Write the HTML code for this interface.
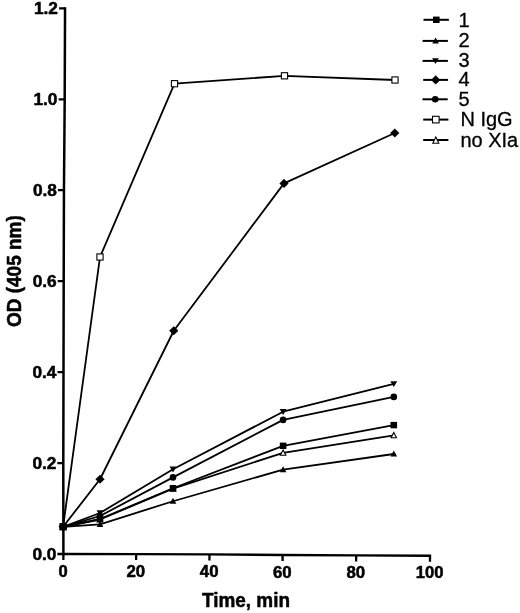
<!DOCTYPE html>
<html><head><meta charset="utf-8"><title>Figure</title>
<style>
html,body{margin:0;padding:0;background:#fff;}
body{width:520px;height:613px;overflow:hidden;}
svg{display:block;}
text{font-family:"Liberation Sans",sans-serif;fill:#000;stroke:#000;stroke-width:0.3px;stroke-linejoin:round;}
.b{font-weight:bold;stroke-width:0.5px;}
</style></head><body>
<svg width="520" height="613" viewBox="0 0 520 613">
<rect width="520" height="613" fill="#fff"/>

<g stroke="#000" fill="none" stroke-linecap="butt">
<polyline points="65.05,7.2 64.7,99 63.95,190 63.7,281 63.5,372 63.3,463 63.4,555.2" stroke-width="2.5"/>
<polyline points="62.2,553.95 136.15,554.1 209.46,554.4 282.6,555.05 356.15,555.4 431.15,555.75" stroke-width="2.4"/>
<line x1="59.05" y1="8.4" x2="65.05" y2="8.42" stroke-width="2.3"/>
<line x1="58.70" y1="99.4" x2="64.70" y2="99.42" stroke-width="2.3"/>
<line x1="57.95" y1="190.1" x2="63.95" y2="190.12" stroke-width="2.3"/>
<line x1="57.70" y1="281.1" x2="63.70" y2="281.12" stroke-width="2.3"/>
<line x1="57.50" y1="372.1" x2="63.50" y2="372.12" stroke-width="2.3"/>
<line x1="57.30" y1="463.1" x2="63.30" y2="463.12" stroke-width="2.3"/>
<line x1="57.40" y1="554.0" x2="63.40" y2="554.02" stroke-width="2.3"/>
<line x1="63.40" y1="553.95" x2="63.38" y2="559.95" stroke-width="2.3"/>
<line x1="136.15" y1="554.10" x2="136.13" y2="560.10" stroke-width="2.3"/>
<line x1="209.46" y1="554.40" x2="209.44" y2="560.40" stroke-width="2.3"/>
<line x1="282.60" y1="555.05" x2="282.58" y2="561.05" stroke-width="2.3"/>
<line x1="356.15" y1="555.40" x2="356.13" y2="561.40" stroke-width="2.3"/>
<line x1="430.00" y1="555.75" x2="429.98" y2="561.75" stroke-width="2.3"/>
</g>
<g stroke="#000" fill="none" stroke-width="1.8" stroke-linejoin="round">
<polyline points="63.10,526.80 100.00,257.00 174.50,83.70 284.50,75.80 395.00,80.00"/>
<polyline points="63.10,526.80 100.00,519.50 173.00,488.60 283.10,452.80 393.80,435.30"/>
<polyline points="63.10,526.80 100.00,524.30 173.00,501.25 283.10,469.60 393.80,454.00"/>
<polyline points="63.10,526.80 100.00,519.00 173.00,488.25 283.10,445.80 393.80,425.10"/>
<polyline points="63.10,526.80 100.00,516.00 173.00,477.40 283.10,419.90 393.80,396.90"/>
<polyline points="63.10,526.80 100.00,513.00 173.00,469.30 283.10,411.70 393.80,383.90"/>
<polyline points="63.10,526.80 100.00,479.25 173.75,330.75 284.00,183.40 394.80,133.00"/>
</g>
<rect x="60.00" y="523.70" width="6.2" height="6.2" fill="#fff" stroke="#000" stroke-width="1.1"/>
<rect x="96.90" y="253.90" width="6.2" height="6.2" fill="#fff" stroke="#000" stroke-width="1.1"/>
<rect x="171.40" y="80.60" width="6.2" height="6.2" fill="#fff" stroke="#000" stroke-width="1.1"/>
<rect x="281.40" y="72.70" width="6.2" height="6.2" fill="#fff" stroke="#000" stroke-width="1.1"/>
<rect x="391.90" y="76.90" width="6.2" height="6.2" fill="#fff" stroke="#000" stroke-width="1.1"/>
<polygon points="63.10,524.00 65.85,529.30 60.35,529.30" fill="#fff" stroke="#000" stroke-width="1.1"/>
<polygon points="100.00,516.70 102.75,522.00 97.25,522.00" fill="#fff" stroke="#000" stroke-width="1.1"/>
<polygon points="173.00,485.80 175.75,491.10 170.25,491.10" fill="#fff" stroke="#000" stroke-width="1.1"/>
<polygon points="283.10,450.00 285.85,455.30 280.35,455.30" fill="#fff" stroke="#000" stroke-width="1.1"/>
<polygon points="393.80,432.50 396.55,437.80 391.05,437.80" fill="#fff" stroke="#000" stroke-width="1.1"/>
<polygon points="63.10,523.40 66.40,529.40 59.80,529.40" fill="#000"/>
<polygon points="100.00,520.90 103.30,526.90 96.70,526.90" fill="#000"/>
<polygon points="173.00,497.85 176.30,503.85 169.70,503.85" fill="#000"/>
<polygon points="283.10,466.20 286.40,472.20 279.80,472.20" fill="#000"/>
<polygon points="393.80,450.60 397.10,456.60 390.50,456.60" fill="#000"/>
<rect x="59.80" y="523.60" width="6.6" height="6.4" fill="#000"/>
<rect x="96.70" y="515.80" width="6.6" height="6.4" fill="#000"/>
<rect x="169.70" y="485.05" width="6.6" height="6.4" fill="#000"/>
<rect x="279.80" y="442.60" width="6.6" height="6.4" fill="#000"/>
<rect x="390.50" y="421.90" width="6.6" height="6.4" fill="#000"/>
<circle cx="63.10" cy="526.80" r="3.3" fill="#000"/>
<circle cx="100.00" cy="516.00" r="3.3" fill="#000"/>
<circle cx="173.00" cy="477.40" r="3.3" fill="#000"/>
<circle cx="283.10" cy="419.90" r="3.3" fill="#000"/>
<circle cx="393.80" cy="396.90" r="3.3" fill="#000"/>
<polygon points="63.10,530.00 66.50,524.10 59.70,524.10" fill="#000"/>
<polygon points="100.00,516.20 103.40,510.30 96.60,510.30" fill="#000"/>
<polygon points="173.00,472.50 176.40,466.60 169.60,466.60" fill="#000"/>
<polygon points="283.10,414.90 286.50,409.00 279.70,409.00" fill="#000"/>
<polygon points="393.80,387.10 397.20,381.20 390.40,381.20" fill="#000"/>
<polygon points="63.10,522.20 67.70,526.80 63.10,531.40 58.50,526.80" fill="#000"/>
<polygon points="100.00,474.65 104.60,479.25 100.00,483.85 95.40,479.25" fill="#000"/>
<polygon points="173.75,326.15 178.35,330.75 173.75,335.35 169.15,330.75" fill="#000"/>
<polygon points="284.00,178.80 288.60,183.40 284.00,188.00 279.40,183.40" fill="#000"/>
<polygon points="394.80,128.40 399.40,133.00 394.80,137.60 390.20,133.00" fill="#000"/>
<text class="b" x="57.9" y="14.30" font-size="16" text-anchor="end" textLength="24" lengthAdjust="spacingAndGlyphs">1.2</text>
<text class="b" x="57.4" y="105.30" font-size="16" text-anchor="end" textLength="24" lengthAdjust="spacingAndGlyphs">1.0</text>
<text class="b" x="56.9" y="196.00" font-size="16" text-anchor="end" textLength="24" lengthAdjust="spacingAndGlyphs">0.8</text>
<text class="b" x="56.7" y="287.00" font-size="16" text-anchor="end" textLength="24" lengthAdjust="spacingAndGlyphs">0.6</text>
<text class="b" x="56.45" y="378.00" font-size="16" text-anchor="end" textLength="24" lengthAdjust="spacingAndGlyphs">0.4</text>
<text class="b" x="56.45" y="469.00" font-size="16" text-anchor="end" textLength="24" lengthAdjust="spacingAndGlyphs">0.2</text>
<text class="b" x="56.45" y="559.90" font-size="16" text-anchor="end" textLength="24" lengthAdjust="spacingAndGlyphs">0.0</text>
<text class="b" x="63.10" y="576.50" font-size="16" text-anchor="middle" textLength="9.2" lengthAdjust="spacingAndGlyphs">0</text>
<text class="b" x="135.85" y="576.70" font-size="16" text-anchor="middle" textLength="18.7" lengthAdjust="spacingAndGlyphs">20</text>
<text class="b" x="209.16" y="576.80" font-size="16" text-anchor="middle" textLength="18.7" lengthAdjust="spacingAndGlyphs">40</text>
<text class="b" x="282.30" y="577.50" font-size="16" text-anchor="middle" textLength="18.7" lengthAdjust="spacingAndGlyphs">60</text>
<text class="b" x="355.85" y="578.00" font-size="16" text-anchor="middle" textLength="18.7" lengthAdjust="spacingAndGlyphs">80</text>
<text class="b" x="429.70" y="578.30" font-size="16" text-anchor="middle" textLength="27.7" lengthAdjust="spacingAndGlyphs">100</text>
<text class="b" x="202" y="606.5" font-size="19.3" textLength="88" lengthAdjust="spacingAndGlyphs">Time, min</text>
<text class="b" transform="translate(20.6,327.1) rotate(-90)" font-size="19.4" textLength="111.9" lengthAdjust="spacingAndGlyphs">OD (405 nm)</text>
<line x1="423.5" y1="19.8" x2="448.9" y2="19.8" stroke="#000" stroke-width="2"/>
<rect x="433.00" y="16.60" width="6.6" height="6.4" fill="#000"/>
<text x="458.4" y="26.60" font-size="20">1</text>
<line x1="422.6" y1="40.9" x2="447.9" y2="40.9" stroke="#000" stroke-width="2"/>
<polygon points="435.60,37.50 438.90,43.50 432.30,43.50" fill="#000"/>
<text x="458.4" y="47.10" font-size="20">2</text>
<line x1="422.6" y1="60.9" x2="447.9" y2="60.9" stroke="#000" stroke-width="2"/>
<polygon points="435.50,64.10 438.90,58.20 432.10,58.20" fill="#000"/>
<text x="458.4" y="67.10" font-size="20">3</text>
<line x1="423.2" y1="79.9" x2="448.1" y2="79.9" stroke="#000" stroke-width="2"/>
<polygon points="435.70,75.30 440.30,79.90 435.70,84.50 431.10,79.90" fill="#000"/>
<text x="458.4" y="86.10" font-size="20">4</text>
<line x1="422.5" y1="99.3" x2="447.7" y2="99.3" stroke="#000" stroke-width="2"/>
<circle cx="435.20" cy="99.30" r="3.3" fill="#000"/>
<text x="458.4" y="105.50" font-size="20">5</text>
<line x1="423.2" y1="119.6" x2="448.4" y2="119.6" stroke="#000" stroke-width="2"/>
<rect x="432.50" y="116.30" width="6.6" height="6.6" fill="#fff" stroke="#000" stroke-width="1.1"/>
<text x="460.4" y="125.90" font-size="20">N IgG</text>
<line x1="423.2" y1="140.0" x2="448.4" y2="140.0" stroke="#000" stroke-width="2"/>
<polygon points="435.80,137.00 438.80,143.20 432.80,143.20" fill="#fff" stroke="#000" stroke-width="1.1"/>
<text x="460.4" y="146.90" font-size="20">no XIa</text>
</svg>
</body></html>
